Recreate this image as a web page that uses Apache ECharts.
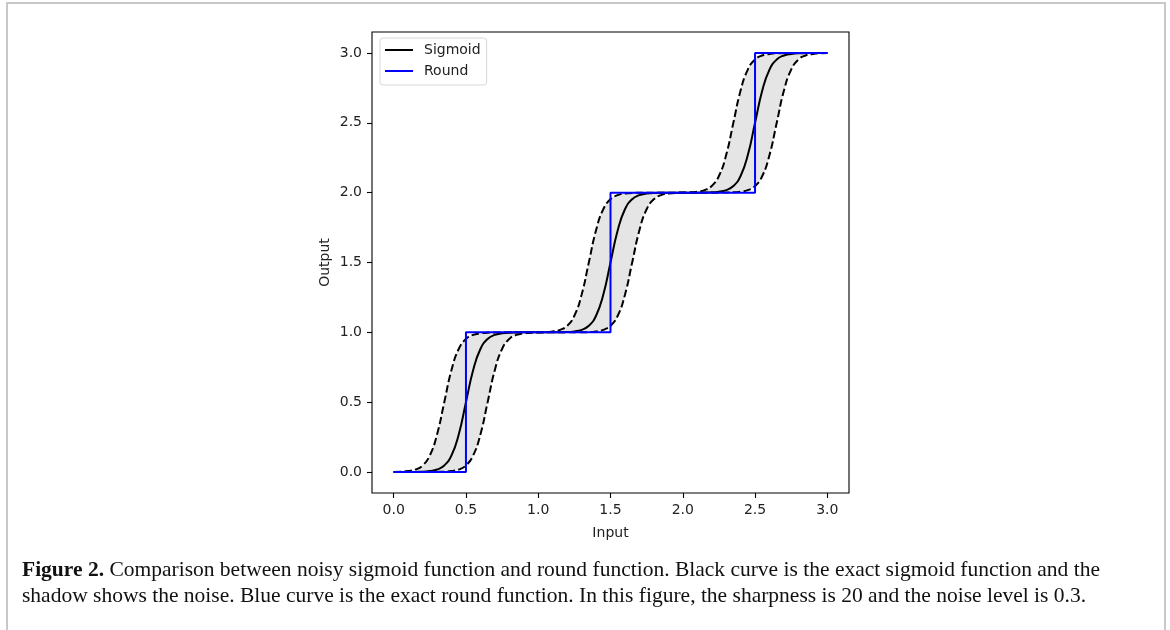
<!DOCTYPE html>
<html>
<head>
<meta charset="utf-8">
<script src="https://cdn.jsdelivr.net/npm/echarts@6/dist/echarts.min.js"></script>
<style>
    body { margin: 0; background: #fff; }
    #page { position: relative; width: 1170px; height: 630px; overflow: hidden; }
    #frame { position: absolute; left: 6px; top: 2px; width: 1156px; height: 700px;
        border: 2px solid #c8c8c8; border-bottom: none; }
    #chart { position: absolute; left: 0; top: 0; width: 1170px; height: 560px; }
    #caption { position: absolute; left: 22px; top: 556px; width: 1135px;
        font-family: "Liberation Serif", serif; font-size: 21.5px; line-height: 26px; color: #111; }
</style>
</head>
<body>
<div id="page">
    <div id="frame"></div>
    <div id="chart"></div>
    <div id="caption"><b>Figure 2.</b> Comparison between noisy sigmoid function and round function. Black curve is the exact sigmoid function and the<br>shadow shows the noise. Blue curve is the exact round function. In this figure, the sharpness is 20 and the noise level is 0.3.</div>
</div>
<script>
// input positions for the curves
const xs = [0, 0.05, 0.1, 0.15, 0.2, 0.25, 0.3, 0.35, 0.4, 0.45, 0.5, 0.55, 0.6, 0.65, 0.7, 0.75, 0.8, 0.85, 0.9, 0.95,
    1, 1.05, 1.1, 1.15, 1.2, 1.25, 1.3, 1.35, 1.4, 1.45, 1.5, 1.55, 1.6, 1.65, 1.7, 1.75, 1.8, 1.85, 1.9, 1.95,
    2, 2.05, 2.1, 2.15, 2.2, 2.25, 2.3, 2.35, 2.4, 2.45, 2.5, 2.55, 2.6, 2.65, 2.7, 2.75, 2.8, 2.85, 2.9, 2.95, 3]

// exact sigmoid (solid black)
const sigmoid = [0, 0, 0, 0.001, 0.002, 0.007, 0.018, 0.047, 0.119, 0.269, 0.5, 0.731, 0.881, 0.953, 0.982, 0.993, 0.998, 0.999, 1, 1,
    1, 1, 1, 1.001, 1.002, 1.007, 1.018, 1.047, 1.119, 1.269, 1.5, 1.731, 1.881, 1.953, 1.982, 1.993, 1.998, 1.999, 2, 2,
    2, 2, 2, 2.001, 2.002, 2.007, 2.018, 2.047, 2.119, 2.269, 2.5, 2.731, 2.881, 2.953, 2.982, 2.993, 2.998, 2.999, 3, 3, 3]

// noise band, upper (left dashed) and lower (right dashed)
const noiseHigh = [0.001, 0.002, 0.007, 0.018, 0.047, 0.119, 0.269, 0.5, 0.731, 0.881, 0.953, 0.982, 0.993, 0.998, 0.999, 1, 1, 1, 1, 1,
    1.001, 1.002, 1.007, 1.018, 1.047, 1.119, 1.269, 1.5, 1.731, 1.881, 1.953, 1.982, 1.993, 1.998, 1.999, 2, 2, 2, 2, 2,
    2.001, 2.002, 2.007, 2.018, 2.047, 2.119, 2.269, 2.5, 2.731, 2.881, 2.953, 2.982, 2.993, 2.998, 2.999, 3, 3, 3, 3, 3, 3]
const noiseLow = [0, 0, 0, 0, 0, 0, 0.001, 0.002, 0.007, 0.018, 0.047, 0.119, 0.269, 0.5, 0.731, 0.881, 0.953, 0.982, 0.993, 0.998,
    0.999, 1, 1, 1, 1, 1, 1.001, 1.002, 1.007, 1.018, 1.047, 1.119, 1.269, 1.5, 1.731, 1.881, 1.953, 1.982, 1.993, 1.998,
    1.999, 2, 2, 2, 2, 2, 2.001, 2.002, 2.007, 2.018, 2.047, 2.119, 2.269, 2.5, 2.731, 2.881, 2.953, 2.982, 2.993, 2.998, 2.999]

// round function (blue step)
const roundX = [0, 0.5, 0.5, 1.5, 1.5, 2.5, 2.5, 3]
const roundY = [0, 0, 1, 1, 2, 2, 3, 3]

const ticks = [0, 0.5, 1, 1.5, 2, 2.5, 3]

const pairs = (a, b) => a.map((v, i) => [v, b[i]])
// the band is stacked on y, so y goes first in these rows (encode swaps it back)
const bandBase = noiseLow.map((v, i) => [v, xs[i]])
const bandSpan = noiseHigh.map((v, i) => [v - noiseLow[i], xs[i]])

let chart = echarts.init(document.getElementById('chart'))
const tickFont = { color: '#222', fontSize: 14, fontFamily: 'DejaVu Sans' }
let axisCommon = {
    type: 'value',
    min: -0.15,
    max: 3.15,
    nameLocation: 'middle',
    nameTextStyle: tickFont,
    axisLine: { show: false, onZero: false },
    axisTick: { show: true, inside: false, length: 5, lineStyle: { color: '#000', width: 1.1 }, customValues: ticks },
    axisLabel: Object.assign({ customValues: ticks, formatter: v => v.toFixed(1), margin: 10 }, tickFont),
    splitLine: { show: false }
}
let option = {
    animation: false,
    grid: { left: 372, top: 32, width: 477, height: 461, show: true, borderColor: '#000', borderWidth: 1.1 },
    xAxis: Object.assign({}, axisCommon, { name: 'Input', nameGap: 33 }),
    yAxis: Object.assign({}, axisCommon, { name: 'Output', nameGap: 40 }),
    legend: {
        orient: 'vertical',
        left: 380,
        top: 38,
        padding: [4, 6, 6, 5],
        itemGap: 5,
        itemWidth: 28,
        itemHeight: 2,
        icon: 'rect',
        borderColor: '#d6d6d6',
        borderWidth: 1,
        borderRadius: 3,
        backgroundColor: 'rgba(255,255,255,0.8)',
        textStyle: { color: '#222', fontSize: 14, lineHeight: 16, fontFamily: 'DejaVu Sans', padding: [0, 0, 0, 6] },
        data: ['Sigmoid', 'Round']
    },
    series: [
        {
            name: 'bandBase', type: 'line', stack: 'band', data: bandBase, encode: { x: 1, y: 0 },
            smooth: 0.5, symbol: 'none', silent: true, lineStyle: { width: 0, opacity: 0 }
        },
        {
            name: 'band', type: 'line', stack: 'band', data: bandSpan, encode: { x: 1, y: 0 },
            smooth: 0.5, symbol: 'none', silent: true, lineStyle: { width: 0, opacity: 0 },
            areaStyle: { color: '#e5e5e5', opacity: 1 }
        },
        {
            name: 'noiseHigh', type: 'line', data: pairs(xs, noiseHigh), smooth: 0.5, symbol: 'none',
            lineStyle: { color: '#000', width: 2, type: [7.5, 3.3] }
        },
        {
            name: 'noiseLow', type: 'line', data: pairs(xs, noiseLow), smooth: 0.5, symbol: 'none',
            lineStyle: { color: '#000', width: 2, type: [7.5, 3.3] }
        },
        {
            name: 'Sigmoid', type: 'line', data: pairs(xs, sigmoid), smooth: 0.5, symbol: 'none',
            itemStyle: { color: '#000' },
            lineStyle: { color: '#000', width: 2 }
        },
        {
            name: 'Round', type: 'line', data: pairs(roundX, roundY), symbol: 'none',
            itemStyle: { color: '#0000ff' },
            lineStyle: { color: '#0000ff', width: 2 }
        }
    ]
}
chart.setOption(option)
window.addEventListener('resize', () => {
    chart.resize()
})
</script>
</body>
</html>
